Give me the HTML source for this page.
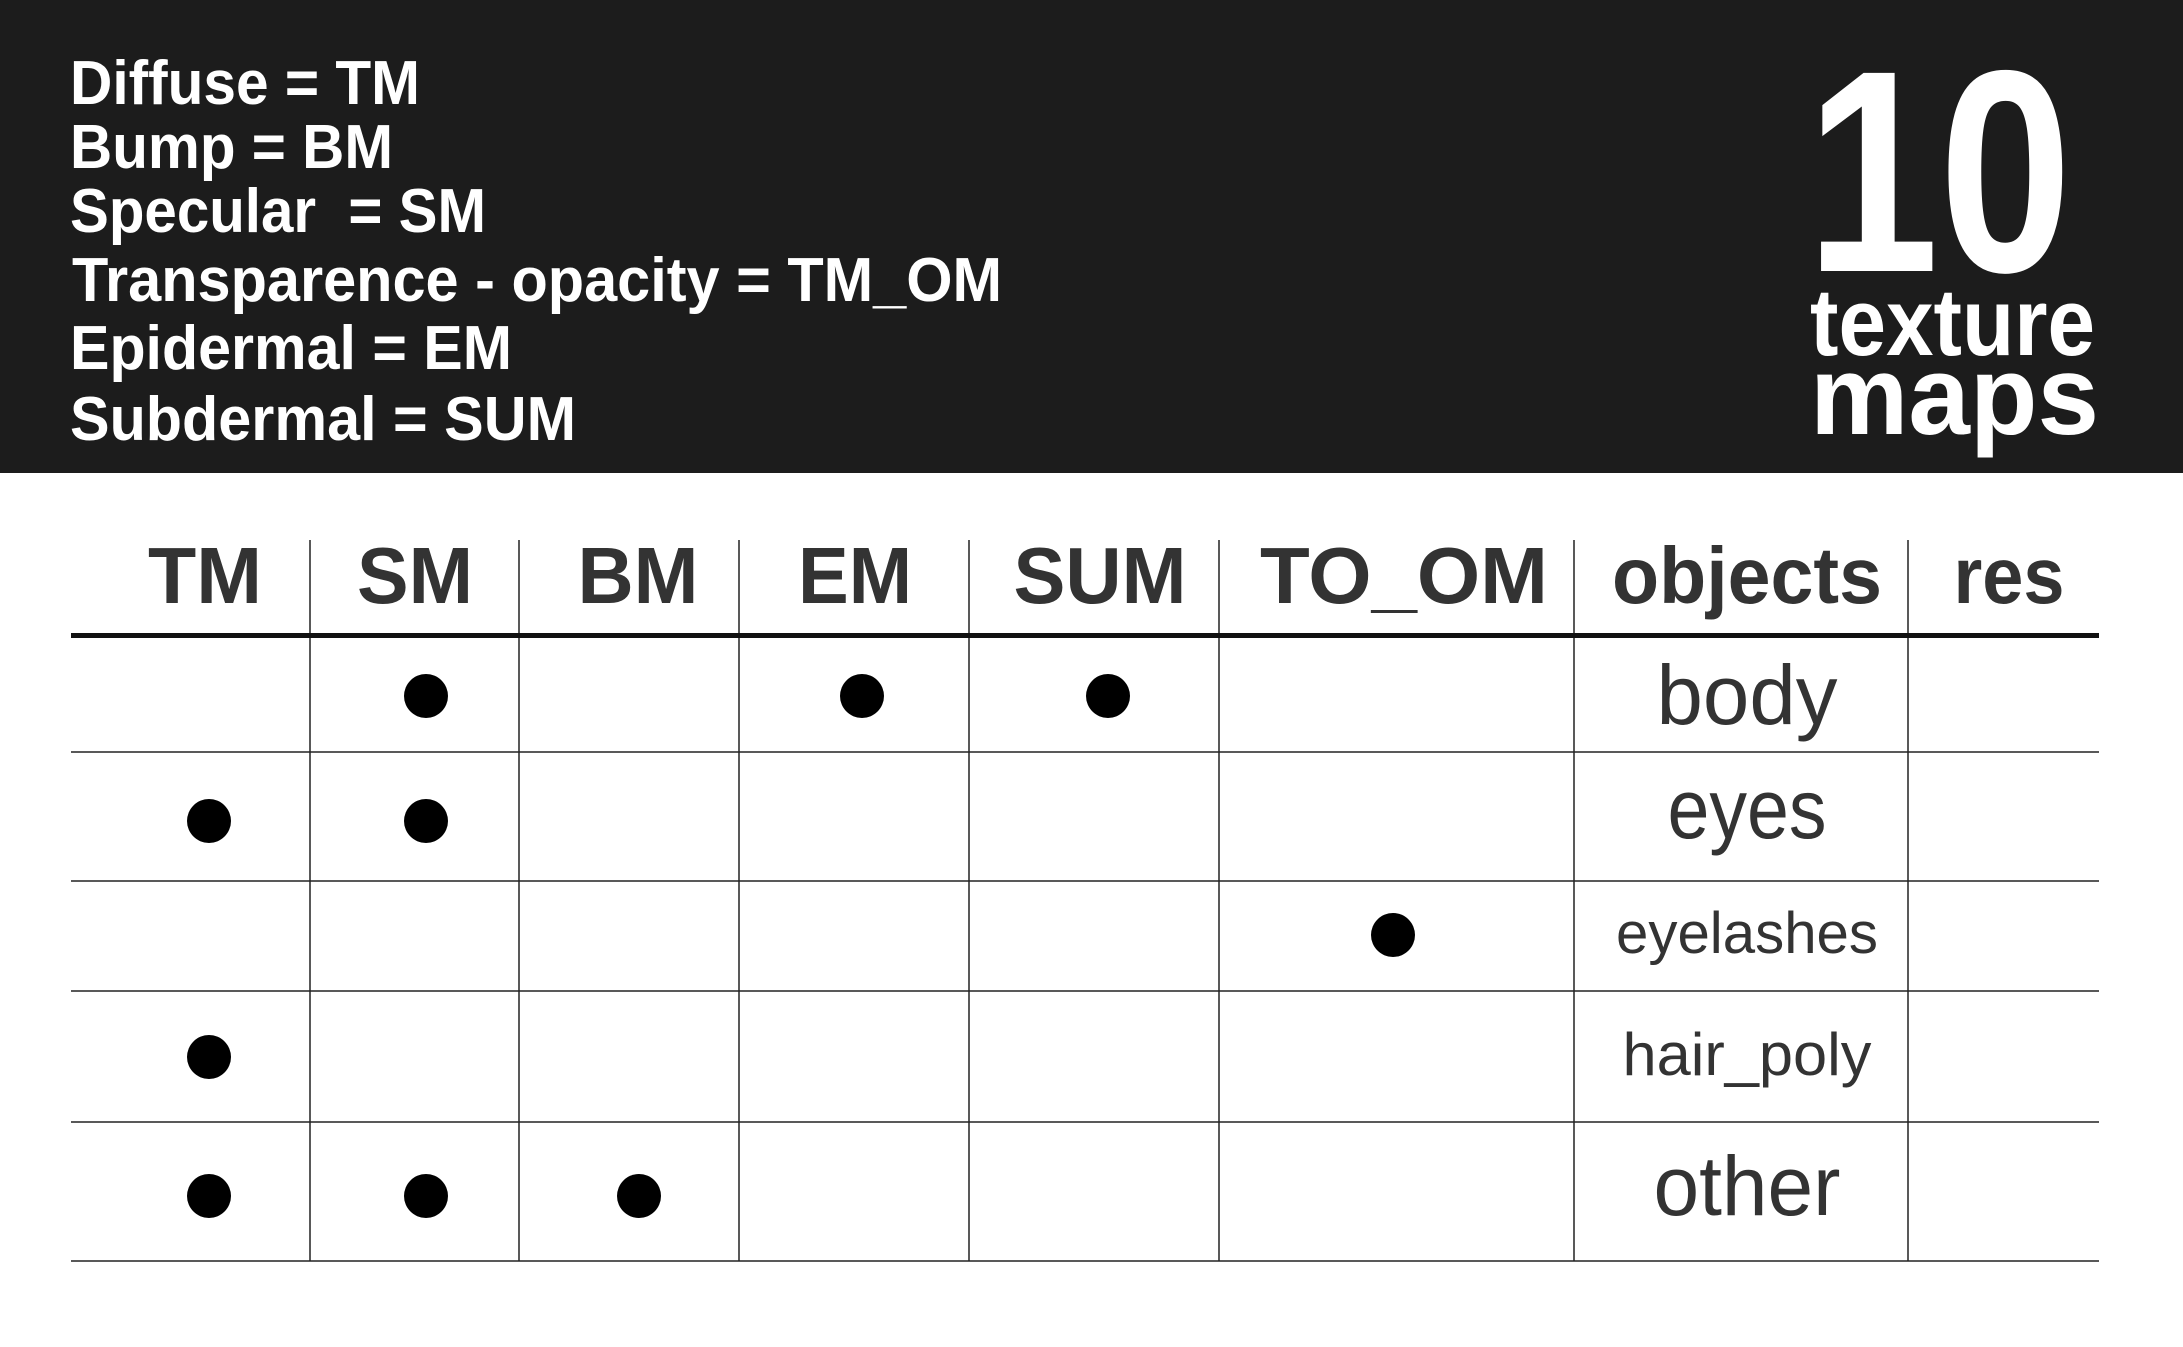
<!DOCTYPE html>
<html><head><meta charset="utf-8"><style>html,body{margin:0;padding:0;background:#fff}svg{display:block}</style></head>
<body>
<svg width="2183" height="1347" viewBox="0 0 2183 1347" xmlns="http://www.w3.org/2000/svg">
<rect width="2183" height="1347" fill="#fff"/>
<rect width="2183" height="473" fill="#1c1c1c"/>
<g font-family="Liberation Sans, sans-serif" fill="#fff" font-weight="bold" font-size="62">
<text x="70" y="104" textLength="350" lengthAdjust="spacingAndGlyphs">Diffuse = TM</text>
<text x="70" y="168" textLength="323" lengthAdjust="spacingAndGlyphs">Bump = BM</text>
<text x="70" y="232" textLength="416" lengthAdjust="spacingAndGlyphs" xml:space="preserve">Specular  = SM</text>
<text x="72" y="301" textLength="930" lengthAdjust="spacingAndGlyphs">Transparence - opacity = TM_OM</text>
<text x="70" y="369" textLength="442" lengthAdjust="spacingAndGlyphs">Epidermal = EM</text>
<text x="70" y="440" textLength="506" lengthAdjust="spacingAndGlyphs">Subdermal = SUM</text>
<text x="1806" y="271" font-size="288" textLength="266" lengthAdjust="spacingAndGlyphs">10</text>
<text x="1810" y="355" font-size="96" textLength="285" lengthAdjust="spacingAndGlyphs">texture</text>
<text x="1810" y="434" font-size="112" textLength="289" lengthAdjust="spacingAndGlyphs">maps</text>
</g>
<g stroke="#222" stroke-width="1.5">
<line x1="310" y1="540" x2="310" y2="1261"/>
<line x1="519" y1="540" x2="519" y2="1261"/>
<line x1="739" y1="540" x2="739" y2="1261"/>
<line x1="969" y1="540" x2="969" y2="1261"/>
<line x1="1219" y1="540" x2="1219" y2="1261"/>
<line x1="1574" y1="540" x2="1574" y2="1261"/>
<line x1="1908" y1="540" x2="1908" y2="1261"/>
<line x1="71" y1="752" x2="2099" y2="752"/>
<line x1="71" y1="881" x2="2099" y2="881"/>
<line x1="71" y1="991" x2="2099" y2="991"/>
<line x1="71" y1="1122" x2="2099" y2="1122"/>
<line x1="71" y1="1261" x2="2099" y2="1261"/>
</g>
<rect x="71" y="633" width="2028" height="5" fill="#111"/>
<g font-family="Liberation Sans, sans-serif" fill="#333" font-weight="bold" font-size="80" text-anchor="middle">
<text x="205" y="603" textLength="114" lengthAdjust="spacingAndGlyphs">TM</text>
<text x="415" y="603" textLength="116" lengthAdjust="spacingAndGlyphs">SM</text>
<text x="638" y="603" textLength="121" lengthAdjust="spacingAndGlyphs">BM</text>
<text x="855" y="603" textLength="114" lengthAdjust="spacingAndGlyphs">EM</text>
<text x="1100" y="603" textLength="173" lengthAdjust="spacingAndGlyphs">SUM</text>
<text x="1404" y="603" textLength="288" lengthAdjust="spacingAndGlyphs">TO_OM</text>
<text x="1747" y="603" textLength="270" lengthAdjust="spacingAndGlyphs">objects</text>
<text x="2009" y="603" textLength="111" lengthAdjust="spacingAndGlyphs">res</text>
</g>
<g font-family="Liberation Sans, sans-serif" fill="#333" text-anchor="middle">
<text x="1747" y="724" font-size="84" textLength="181" lengthAdjust="spacingAndGlyphs">body</text>
<text x="1747" y="838" font-size="84" textLength="159" lengthAdjust="spacingAndGlyphs">eyes</text>
<text x="1747" y="953" font-size="58" textLength="262" lengthAdjust="spacingAndGlyphs">eyelashes</text>
<text x="1747" y="1075" font-size="60" textLength="249" lengthAdjust="spacingAndGlyphs">hair_poly</text>
<text x="1747" y="1215" font-size="84" textLength="187" lengthAdjust="spacingAndGlyphs">other</text>
</g>
<g fill="#000">
<circle cx="426" cy="696" r="22"/><circle cx="862" cy="696" r="22"/><circle cx="1108" cy="696" r="22"/>
<circle cx="209" cy="821" r="22"/><circle cx="426" cy="821" r="22"/>
<circle cx="1393" cy="935" r="22"/>
<circle cx="209" cy="1057" r="22"/>
<circle cx="209" cy="1196" r="22"/><circle cx="426" cy="1196" r="22"/><circle cx="639" cy="1196" r="22"/>
</g>
</svg>
</body></html>
